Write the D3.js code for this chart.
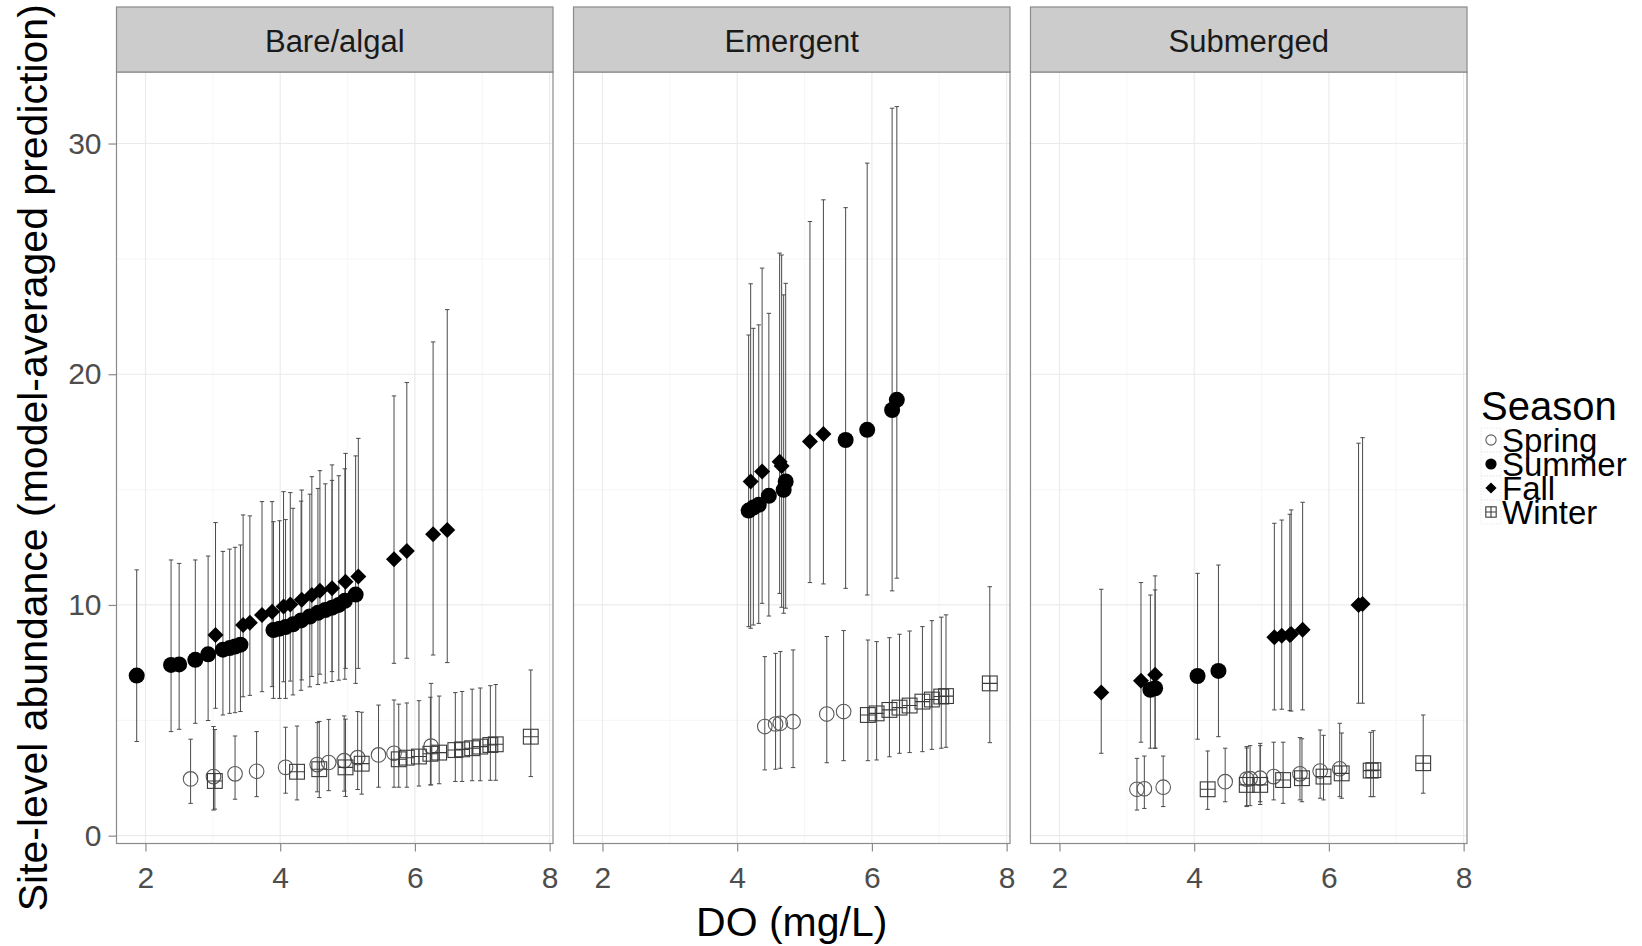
<!DOCTYPE html>
<html>
<head>
<meta charset="utf-8">
<script src="https://cdn.jsdelivr.net/npm/d3@7"></script>
<style>
  body { margin: 0; background: #fff; }
  svg { display: block; font-family: "Liberation Sans", Arial, Helvetica, sans-serif; }
</style>
</head>
<body>
<svg id="chart" width="1642" height="946"></svg>
<script>
// Facets, seasons and axis ticks
const habitats = ["Bare/algal", "Emergent", "Submerged"];
const seasons = ["Spring", "Summer", "Fall", "Winter"];
const xTicks = [2, 4, 6, 8];
const yTicks = [0, 10, 20, 30];

// Each row: [DO (mg/L), model-averaged abundance, lower CI, upper CI]
const bareSpring = [
  [2.67, 2.46, 1.40, 4.18], [3.01, 2.56, 1.11, 4.73], [3.33, 2.68, 1.58, 4.32],
  [3.65, 2.79, 1.69, 4.51], [4.08, 2.96, 1.84, 4.70], [4.55, 3.08, 1.90, 4.90],
  [4.72, 3.17, 1.95, 5.04], [4.95, 3.25, 1.93, 5.19], [5.15, 3.38, 2.00, 5.38],
  [5.46, 3.50, 2.10, 5.66], [5.69, 3.57, 2.10, 5.88], [6.24, 3.88, 2.20, 6.60]
];
const bareSummer = [
  [1.87, 6.94, 4.08, 11.52], [2.38, 7.40, 4.51, 11.95], [2.50, 7.42, 4.61, 11.80],
  [2.74, 7.62, 4.87, 11.95], [2.93, 7.86, 4.99, 12.12], [3.15, 8.06, 5.23, 12.32],
  [3.25, 8.13, 5.30, 12.42], [3.33, 8.20, 5.33, 12.50], [3.41, 8.28, 5.38, 12.60],
  [3.90, 8.91, 5.95, 13.61], [3.99, 8.97, 5.95, 13.65], [4.08, 9.04, 5.95, 13.70],
  [4.19, 9.16, 6.10, 14.19], [4.31, 9.33, 6.30, 14.50], [4.44, 9.50, 6.45, 14.80],
  [4.56, 9.66, 6.55, 15.05], [4.67, 9.78, 6.62, 15.25], [4.77, 9.88, 6.68, 15.40],
  [4.87, 10.00, 6.74, 15.60], [4.96, 10.18, 6.78, 15.90], [5.12, 10.45, 6.60, 16.46]
];
const bareFall = [
  [3.04, 8.70, 5.52, 13.57], [3.45, 9.13, 6.02, 13.90], [3.55, 9.23, 6.08, 13.86],
  [3.73, 9.56, 6.24, 14.48], [3.88, 9.71, 6.46, 14.48], [4.05, 9.93, 6.67, 14.91],
  [4.15, 10.02, 6.70, 14.87], [4.32, 10.22, 6.75, 14.98], [4.47, 10.43, 6.90, 15.56],
  [4.59, 10.62, 7.00, 15.82], [4.77, 10.72, 7.11, 16.07], [4.97, 11.01, 7.25, 16.57],
  [5.16, 11.23, 7.25, 17.22], [5.69, 11.98, 7.47, 19.06], [5.88, 12.34, 7.69, 19.64],
  [6.27, 13.06, 7.83, 21.40], [6.48, 13.25, 7.50, 22.80]
];
const bareWinter = [
  [3.03, 2.37, 1.15, 4.60], [4.25, 2.77, 1.55, 4.75], [4.58, 2.88, 1.65, 4.95],
  [4.97, 2.96, 1.70, 5.05], [5.21, 3.12, 1.80, 5.35], [5.76, 3.31, 2.10, 5.70],
  [5.88, 3.38, 2.10, 5.75], [6.06, 3.43, 2.15, 5.85], [6.23, 3.55, 2.20, 6.00],
  [6.36, 3.60, 2.25, 6.05], [6.60, 3.71, 2.35, 6.20], [6.70, 3.74, 2.35, 6.25],
  [6.85, 3.79, 2.38, 6.35], [6.97, 3.86, 2.38, 6.40], [7.12, 3.93, 2.40, 6.50],
  [7.20, 3.96, 2.40, 6.55], [7.72, 4.29, 2.56, 7.18]
];

const emSpring = [
  [4.41, 4.73, 2.85, 7.76], [4.57, 4.84, 2.88, 7.90], [4.64, 4.87, 2.92, 7.98],
  [4.83, 4.94, 2.95, 8.05], [5.33, 5.27, 3.16, 8.63], [5.58, 5.38, 3.25, 8.89]
];
const emSummer = [
  [4.17, 14.09, 9.06, 21.70], [4.24, 14.22, 9.13, 21.99], [4.32, 14.34, 9.20, 22.14],
  [4.47, 14.73, 9.52, 22.64], [4.69, 14.99, 9.64, 23.44], [4.72, 15.35, 9.86, 23.94],
  [5.61, 17.15, 10.72, 27.22], [5.93, 17.59, 10.43, 29.15], [6.30, 18.45, 10.61, 31.53],
  [6.37, 18.89, 11.16, 31.60]
];
const emFall = [
  [4.20, 15.35, 8.99, 23.92], [4.37, 15.78, 10.07, 24.60], [4.63, 16.21, 10.50, 25.25],
  [4.66, 16.02, 9.90, 25.17], [5.08, 17.08, 10.97, 26.62], [5.28, 17.41, 10.91, 27.56]
];
const emWinter = [
  [5.94, 5.23, 3.25, 8.48], [6.07, 5.30, 3.28, 8.41], [6.26, 5.45, 3.42, 8.58],
  [6.41, 5.55, 3.57, 8.73], [6.56, 5.64, 3.60, 8.87], [6.75, 5.81, 3.64, 9.06],
  [6.89, 5.90, 3.74, 9.32], [7.03, 6.03, 3.79, 9.47], [7.10, 6.05, 3.83, 9.57],
  [7.75, 6.60, 4.03, 10.79]
];

const subSpring = [
  [3.15, 2.01, 1.11, 3.35], [3.26, 2.03, 1.18, 3.45], [3.54, 2.10, 1.26, 3.45],
  [4.46, 2.34, 1.47, 3.79], [4.78, 2.45, 1.26, 3.86], [4.83, 2.47, 1.30, 3.90],
  [4.98, 2.49, 1.47, 4.00], [5.18, 2.56, 1.55, 4.05], [5.57, 2.68, 1.55, 4.25],
  [5.87, 2.80, 1.62, 4.58], [6.16, 2.90, 1.69, 4.87]
];
const subSummer = [
  [3.35, 6.32, 3.79, 10.43], [3.42, 6.39, 3.79, 10.65], [4.05, 6.92, 4.18, 11.37],
  [4.36, 7.14, 4.29, 11.73]
];
const subFall = [
  [2.62, 6.21, 3.57, 10.68], [3.21, 6.71, 4.05, 10.97], [3.42, 6.97, 3.79, 11.26],
  [5.19, 8.60, 5.45, 13.54], [5.30, 8.66, 5.48, 13.68], [5.42, 8.70, 5.42, 13.93],
  [5.44, 8.74, 5.40, 14.12], [5.61, 8.92, 5.45, 14.45], [6.44, 10.00, 5.74, 17.01],
  [6.50, 10.04, 5.74, 17.25]
];
const subWinter = [
  [4.20, 2.01, 1.14, 3.67], [4.78, 2.20, 1.30, 3.80], [4.98, 2.20, 1.35, 3.90],
  [5.32, 2.41, 1.40, 4.05], [5.60, 2.49, 1.47, 4.20], [5.92, 2.56, 1.55, 4.35],
  [6.19, 2.70, 1.62, 4.45], [6.62, 2.82, 1.69, 4.48], [6.66, 2.84, 1.69, 4.55],
  [7.40, 3.14, 1.84, 5.23]
];

const panelData = {
  "Bare/algal": { Spring: bareSpring, Summer: bareSummer, Fall: bareFall, Winter: bareWinter },
  "Emergent":   { Spring: emSpring,   Summer: emSummer,   Fall: emFall,   Winter: emWinter },
  "Submerged":  { Spring: subSpring,  Summer: subSummer,  Fall: subFall,  Winter: subWinter }
};

// ---- layout ----
const svg = d3.select("#chart");
const stripTop = 7, panelTop = 72, panelBottom = 843.5;
const panelW = 436.5, panelGap = 20.5, firstLeft = 116.5;
const panelH = panelBottom - panelTop;

const x = d3.scaleLinear().domain([1.57, 8.05]).range([0, panelW]);
const y = d3.scaleLinear().domain([-0.34, 33.1]).range([panelH, 0]);

const borderCol = "#8a8a8a";
const tickTextCol = "#4d4d4d";

// marker drawers (open circle, filled circle, filled diamond, square with cross)
function drawMarker(g, season, cx, cy, scale = 1) {
  if (season === "Spring") {
    g.append("circle").attr("cx", cx).attr("cy", cy).attr("r", 7.3 * scale)
      .attr("fill", "none").attr("stroke", "#5a5a5a").attr("stroke-width", 1.1);
  } else if (season === "Summer") {
    g.append("circle").attr("cx", cx).attr("cy", cy).attr("r", 8 * scale)
      .attr("fill", "#000");
  } else if (season === "Fall") {
    const s = 8 * scale;
    g.append("path")
      .attr("d", `M${cx},${cy - s}L${cx + s},${cy}L${cx},${cy + s}L${cx - s},${cy}Z`)
      .attr("fill", "#000");
  } else {
    const h = 7.4 * scale;
    g.append("rect").attr("x", cx - h).attr("y", cy - h).attr("width", 2 * h).attr("height", 2 * h)
      .attr("fill", "none").attr("stroke", "#3a3a3a").attr("stroke-width", 1.1);
    g.append("path")
      .attr("d", `M${cx - h},${cy}H${cx + h}M${cx},${cy - h}V${cy + h}`)
      .attr("fill", "none").attr("stroke", "#3a3a3a").attr("stroke-width", 1.1);
  }
}

habitats.forEach((hab, i) => {
  const left = firstLeft + i * (panelW + panelGap);
  const g = svg.append("g").attr("transform", `translate(${left},${panelTop})`);

  // panel background
  g.append("rect").attr("width", panelW).attr("height", panelH).attr("fill", "#fff");

  // minor grid
  const xMinor = [3, 5, 7], yMinor = [5, 15, 25];
  g.selectAll(".xminor").data(xMinor).join("line")
    .attr("x1", d => x(d)).attr("x2", d => x(d)).attr("y1", 0).attr("y2", panelH)
    .attr("stroke", "#f7f7f7").attr("stroke-width", 1.2);
  g.selectAll(".yminor").data(yMinor).join("line")
    .attr("y1", d => y(d)).attr("y2", d => y(d)).attr("x1", 0).attr("x2", panelW)
    .attr("stroke", "#f7f7f7").attr("stroke-width", 1.2);
  // major grid
  g.selectAll(".xmajor").data(xTicks).join("line")
    .attr("x1", d => x(d)).attr("x2", d => x(d)).attr("y1", 0).attr("y2", panelH)
    .attr("stroke", "#ebebeb").attr("stroke-width", 1.2);
  g.selectAll(".ymajor").data(yTicks).join("line")
    .attr("y1", d => y(d)).attr("y2", d => y(d)).attr("x1", 0).attr("x2", panelW)
    .attr("stroke", "#ebebeb").attr("stroke-width", 1.2);

  // error bars
  const data = panelData[hab];
  seasons.forEach(season => {
    const eb = g.append("g").attr("class", "errorbars")
      .attr("stroke", "#4a4a4a").attr("stroke-width", 1).attr("fill", "none");
    data[season].forEach(r => {
      const cx = x(r[0]), y1 = y(r[2]), y2 = y(r[3]);
      eb.append("path").attr("d", `M${cx},${y1}V${y2}M${cx - 2.2},${y1}H${cx + 2.2}M${cx - 2.2},${y2}H${cx + 2.2}`);
    });
  });

  // points
  seasons.forEach(season => {
    const pg = g.append("g").attr("class", "points " + season);
    data[season].forEach(r => drawMarker(pg, season, x(r[0]), y(r[1])));
  });

  // panel border
  g.append("rect").attr("width", panelW).attr("height", panelH)
    .attr("fill", "none").attr("stroke", borderCol).attr("stroke-width", 1.2);

  // strip
  svg.append("rect").attr("x", left).attr("y", stripTop)
    .attr("width", panelW).attr("height", panelTop - stripTop)
    .attr("fill", "#cccccc").attr("stroke", borderCol).attr("stroke-width", 1.2);
  svg.append("text").attr("x", left + panelW / 2).attr("y", (stripTop + panelTop) / 2 + 12)
    .attr("text-anchor", "middle").attr("font-size", 31).attr("fill", "#1a1a1a").text(hab);

  // x axis
  const xa = svg.append("g").attr("transform", `translate(${left},${panelBottom})`)
    .call(d3.axisBottom(x).tickValues(xTicks).tickSize(8).tickPadding(15).tickFormat(d3.format("d")));
  xa.select(".domain").remove();
  xa.selectAll("line").attr("stroke", borderCol).attr("stroke-width", 1.2);
  xa.selectAll("text").attr("font-size", 30).attr("fill", tickTextCol)
    .attr("font-family", "'Liberation Sans', Arial, sans-serif");

  // y axis on the first panel only
  if (i === 0) {
    const ya = svg.append("g").attr("transform", `translate(${left},${panelTop})`)
      .call(d3.axisLeft(y).tickValues(yTicks).tickSize(8).tickPadding(7).tickFormat(d3.format("d")));
    ya.select(".domain").remove();
    ya.selectAll("line").attr("stroke", borderCol).attr("stroke-width", 1.2);
    ya.selectAll("text").attr("font-size", 30).attr("fill", tickTextCol)
      .attr("font-family", "'Liberation Sans', Arial, sans-serif");
  }
});

// axis titles
const plotCenterX = firstLeft + (3 * panelW + 2 * panelGap) / 2;
svg.append("text").attr("x", plotCenterX).attr("y", 936)
  .attr("text-anchor", "middle").attr("font-size", 41).attr("fill", "#000").text("DO (mg/L)");
svg.append("text")
  .attr("transform", `translate(47,${(panelTop + panelBottom) / 2}) rotate(-90)`)
  .attr("text-anchor", "middle").attr("font-size", 41).attr("fill", "#000")
  .text("Site-level abundance (model-averaged prediction)");

// legend
const legend = svg.append("g").attr("class", "legend");
legend.append("text").attr("x", 1481).attr("y", 420).attr("font-size", 40).attr("fill", "#000").text("Season");
seasons.forEach((s, k) => {
  const cy = 440 + k * 24;
  legend.append("rect").attr("x", 1481).attr("y", cy - 12).attr("width", 20).attr("height", 24)
    .attr("fill", "#fff").attr("stroke", "#e3e3e3").attr("stroke-width", 0.8)
    .attr("stroke-dasharray", "1.5,1.5");
  drawMarker(legend, s, 1491, cy, 0.7);
  legend.append("text").attr("x", 1502).attr("y", cy + 12).attr("font-size", 33).attr("fill", "#000").text(s);
});
</script>
</body>
</html>
